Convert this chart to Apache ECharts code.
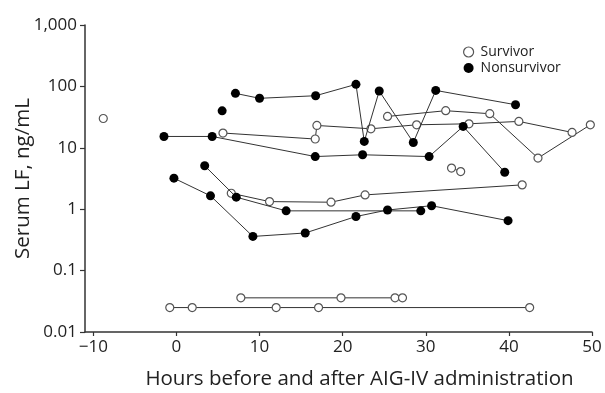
<!DOCTYPE html>
<html>
<head>
<meta charset="utf-8">
<script src="https://cdn.jsdelivr.net/npm/echarts@6/dist/echarts.min.js"></script>
<style>
html,body{margin:0;padding:0;background:#fff;}
#chart{width:605px;height:393px;}
</style>
</head>
<body>
<div id="chart"></div>
<script>
// Tick labels
const yTickLabels = {'-2':'0.01','-1':'0.1','0':'1','1':'10','2':'100','3':'1,000'};
const xTitle = 'Hours before and after AIG-IV administration';
const yTitle = 'Serum LF, ng/mL';

// Survivor series: [hours, LF ng/mL]
const survivor1 = [[-8.8, 30]];
const survivor2 = [[5.6,17.4],[16.7,13.9],[16.9,23.1],[23.4,20.4],[28.9,23.7],[35.2,24.6],[41.2,26.9],[47.6,17.8]];
const survivor3 = [[25.4,32.4],[32.4,40.2],[37.7,35.9],[43.5,6.8],[49.8,23.7]];
const survivor4 = [[6.6,1.82],[11.2,1.33],[18.6,1.30],[22.7,1.71],[41.6,2.49]];
const survivor5 = [[33.1,4.67],[34.2,4.1]];
const survivor6 = [[-0.8,0.025],[1.9,0.025],[12.0,0.025],[17.1,0.025],[42.5,0.025]];
const survivor7 = [[7.75,0.036],[19.8,0.036],[26.3,0.036],[27.2,0.036]];

// Nonsurvivor series
const nonsurvivor1 = [[-1.5,15.3],[4.3,15.3],[16.7,7.2],[22.4,7.7],[30.4,7.2],[34.5,22.3],[39.5,4.0]];
const nonsurvivor2 = [[5.5,40]];
const nonsurvivor3 = [[7.1,77],[10.0,64],[16.75,70.5],[21.6,108],[22.6,12.7],[24.4,84],[28.5,12.2],[31.2,86],[40.8,50.3]];
const nonsurvivor4 = [[3.4,5.1],[7.2,1.57],[13.2,0.94],[29.4,0.94]];
const nonsurvivor5 = [[-0.3,3.2],[4.1,1.65],[9.2,0.36],[15.5,0.41],[21.6,0.76],[25.4,0.97],[30.7,1.14],[39.9,0.65]];

const survivorSets = [survivor1, survivor2, survivor3, survivor4, survivor5, survivor6, survivor7];
const nonsurvivorSets = [nonsurvivor1, nonsurvivor2, nonsurvivor3, nonsurvivor4, nonsurvivor5];

const FONT = 'Open Sans';
const lineStyle = {color:'#333', width:1};

const series = [];
survivorSets.forEach(d => series.push({
  name:'Survivor', type:'line', data:d, symbol:'circle', symbolSize:8,
  lineStyle: lineStyle,
  itemStyle:{color:'#fff', borderColor:'#555', borderWidth:1.2},
  emphasis:{disabled:true}, z:3
}));
nonsurvivorSets.forEach(d => series.push({
  name:'Nonsurvivor', type:'line', data:d, symbol:'circle', symbolSize:9,
  lineStyle: lineStyle,
  itemStyle:{color:'#000', borderColor:'#000', borderWidth:0},
  emphasis:{disabled:true}, z:4
}));

const chart = echarts.init(document.getElementById('chart'), null, {renderer:'canvas'});
chart.setOption({
  animation:false,
  backgroundColor:'#fff',
  grid:{left:85, right:13, top:25, bottom:61, containLabel:false, outerBoundsMode:'none'},
  legend:{
    orient:'vertical', left:458, top:40, itemWidth:10, itemHeight:10, itemGap:2,
    data:[
      {name:'Survivor', icon:'circle', itemStyle:{color:'#fff', borderColor:'#555', borderWidth:1.2}},
      {name:'Nonsurvivor', icon:'circle', itemStyle:{color:'#000'}}
    ],
    textStyle:{fontFamily:FONT, fontSize:14, color:'#222', padding:[0,0,0,2]}
  },
  xAxis:{
    type:'value', min:-11, max:50,
    name:xTitle, nameLocation:'middle', nameGap:37, nameMoveOverlap:false,
    nameTextStyle:{fontFamily:FONT, fontSize:20.5, color:'#222', padding:[0,0,0,42]},
    splitLine:{show:false},
    axisLine:{onZero:false, lineStyle:{color:'#333', width:1.5}},
    axisTick:{length:4, lineStyle:{color:'#333', width:1.2}},
    axisLabel:{showMinLabel:false, margin:7, fontFamily:FONT, fontSize:17, color:'#222',
      formatter: v => v < 0 ? '\u2212' + Math.abs(v) : String(v)}
  },
  yAxis:{
    type:'log', logBase:10, min:0.01, max:1000,
    name:yTitle, nameLocation:'middle', nameGap:51, nameMoveOverlap:false,
    nameTextStyle:{fontFamily:FONT, fontSize:20.5, color:'#222'},
    splitLine:{show:false},
    minorTick:{show:false},
    axisLine:{show:true, onZero:false, lineStyle:{color:'#333', width:1.5}},
    axisTick:{show:true, length:5, lineStyle:{color:'#333', width:1.2}},
    axisLabel:{margin:8, fontFamily:FONT, fontSize:17, color:'#222',
      formatter: v => yTickLabels[String(Math.round(Math.log10(v)))]}
  },
  series: series
});
</script>
</body>
</html>
